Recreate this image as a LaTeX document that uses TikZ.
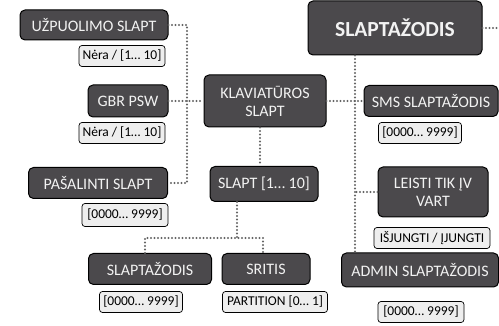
\documentclass[tikz,border=0pt]{standalone}
\usepackage{fontspec}
\setmainfont{Carlito}
\usetikzlibrary{calc}

\definecolor{boxgray}{HTML}{4B494C}
\definecolor{boxtext}{HTML}{F2F2F2}
\definecolor{tagfill}{HTML}{EEEEEE}
\definecolor{linkgray}{HTML}{646464}

\tikzset{
  darkbox/.style={draw=black, line width=1pt, fill=boxgray, text=boxtext,
    rounded corners=5pt, align=center, inner sep=2pt,
    font=\fontsize{16}{18}\selectfont},
  tagbox/.style={draw=black, line width=0.7pt, fill=tagfill, text=black,
    rounded corners=3pt, inner sep=2pt, minimum height=21pt,
    font=\fontsize{13.5}{15}\selectfont},
  link/.style={draw=linkgray, line width=2.1pt, line cap=round,
    dash pattern=on 0pt off 3.5pt}
}

\begin{document}
\begin{tikzpicture}[x=1pt, y=-1pt]
   \useasboundingbox (0,0) rectangle (499,326);

   % left column
   \node [darkbox, minimum width=148pt, minimum height=30pt] (uzp) at (94,25) {UŽPUOLIMO SLAPT};
   \node [tagbox, minimum width=86pt] (uzpval) at (122,56) {Nėra / [1… 10]};
   \node [darkbox, minimum width=80pt, minimum height=32pt] (gbr) at (128,101) {GBR PSW};
   \node [tagbox, minimum width=86pt] (gbrval) at (122,133) {Nėra / [1… 10]};
   \node [darkbox, minimum width=139pt, minimum height=31pt] (pas) at (98,183) {PAŠALINTI SLAPT};
   \node [tagbox, minimum width=86pt, minimum height=23pt] (pasval) at (125,215) {[0000… 9999]};

   % middle column
   \node [darkbox, minimum width=122pt, minimum height=52pt] (klav) at (265,101) {KLAVIATŪROS\\SLAPT};
   \node [darkbox, minimum width=108pt, minimum height=35pt] (slapt) at (264,184) {SLAPT [1… 10]};
   \node [darkbox, minimum width=123pt, minimum height=31pt] (pw) at (150,269) {SLAPTAŽODIS};
   \node [tagbox, minimum width=83pt] (pwval) at (141,302) {[0000… 9999]};
   \node [darkbox, minimum width=88pt, minimum height=31pt] (sritis) at (266,269) {SRITIS};
   \node [tagbox, minimum width=105pt] (sritisval) at (275,302) {PARTITION [0… 1]};

   % right column
   \node [darkbox, minimum width=174pt, minimum height=54pt,
          font=\fontsize{21.5}{24}\selectfont\bfseries] (top) at (395,28) {SLAPTAŽODIS};
   \node [darkbox, minimum width=134pt, minimum height=31pt] (sms) at (431,101) {SMS SLAPTAŽODIS};
   \node [tagbox, minimum width=83pt] (smsval) at (420,133) {[0000… 9999]};
   \node [darkbox, minimum width=110pt, minimum height=50pt] (leisti) at (433,192) {LEISTI TIK ĮV\\VART};
   \node [tagbox, minimum width=116pt] (leistival) at (432,238) {IŠJUNGTI / ĮJUNGTI};
   \node [darkbox, minimum width=157pt, minimum height=34pt] (admin) at (420,270) {ADMIN SLAPTAŽODIS};
   \node [tagbox, minimum width=86pt] (adminval) at (421,312) {[0000… 9999]};

   % dotted connectors
   \coordinate (leftbus) at (187,0);
   \coordinate (rightbus) at (355,0);
   \coordinate (topout) at (499,28);
   \coordinate (fork) at (237,238);

   \draw [link] (uzp.east) -| (leftbus |- pas.east) -- (pas.east);
   \draw [link] (gbr.east) -- (klav.west);
   \draw [link] (klav.east) -- (sms.west);
   \draw [link] (klav.south -| 260,0) -- (slapt.north -| 260,0);
   \draw [link] (top.east) -- (topout);
   \draw [link] (top.south -| rightbus) -- (admin.north -| rightbus);
   \draw [link] (leisti.west) -- (leisti.west -| rightbus);
   \draw [link] (slapt.south -| fork) -- (fork);
   \draw [link] ([xshift=-5pt]pw.north) |- (fork) -| ([xshift=-3pt]sritis.north);
\end{tikzpicture}
\end{document}
